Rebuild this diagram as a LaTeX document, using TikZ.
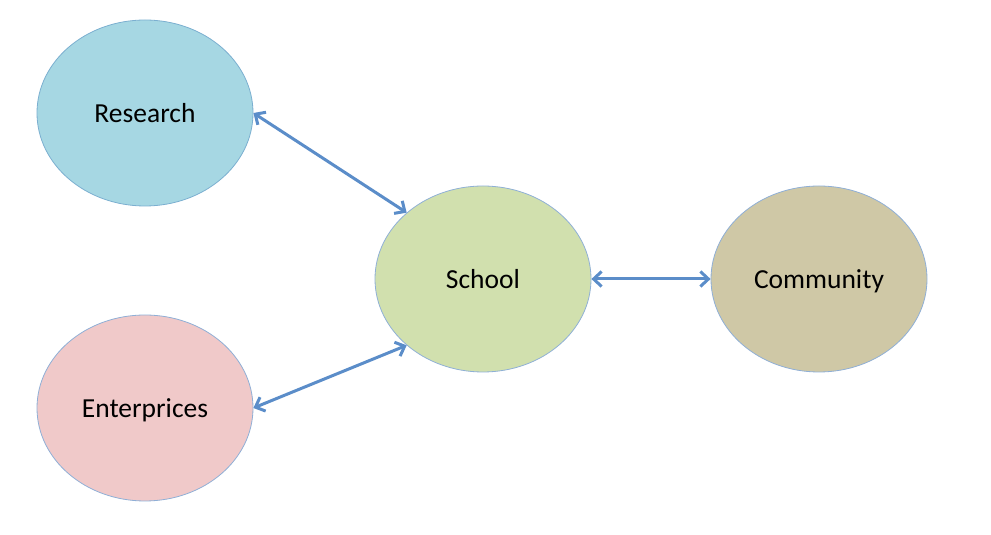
\documentclass[tikz,border=0pt]{standalone}
\usepackage{fontspec}
\setmainfont{Carlito}
\usetikzlibrary{shapes.geometric,arrows.meta}
\definecolor{resfill}{HTML}{A6D7E3}
\definecolor{resline}{HTML}{7BAFD0}
\definecolor{entfill}{HTML}{F0C9C9}
\definecolor{entline}{HTML}{8FAFD6}
\definecolor{schfill}{HTML}{D1E0AE}
\definecolor{schline}{HTML}{8FB0D6}
\definecolor{comfill}{HTML}{CFC8A6}
\definecolor{comline}{HTML}{8FAFD6}
\definecolor{arrowc}{HTML}{5B8DC9}
\tikzset{
  blob/.style={ellipse, minimum width=216pt, minimum height=186pt, inner sep=0pt, line width=0.8pt, text height=19pt, text depth=0pt, font=\fontsize{27.5}{33}\selectfont},
  link/.style={draw=arrowc, line width=3pt, {Straight Barb[length=8pt,width=15pt,line width=3pt]}-{Straight Barb[length=8pt,width=15pt,line width=3pt]}}
}
\begin{document}
\begin{tikzpicture}[x=1pt,y=1pt]
\useasboundingbox (0,0) rectangle (991,535);
\node[blob, fill=resfill, draw=resline] (r) at (145,422) {Research};
\node[blob, fill=entfill, draw=entline] (e) at (145,127) {Enterprices};
\node[blob, fill=schfill, draw=schline] (s) at (483,256) {School};
\node[blob, fill=comfill, draw=comline] (c) at (819,256) {Community};
\draw[link] (r.east) -- (s.139);
\draw[link] (e.east) -- (s.221);
\draw[link] (s.east) -- (c.west);
\end{tikzpicture}
\end{document}
